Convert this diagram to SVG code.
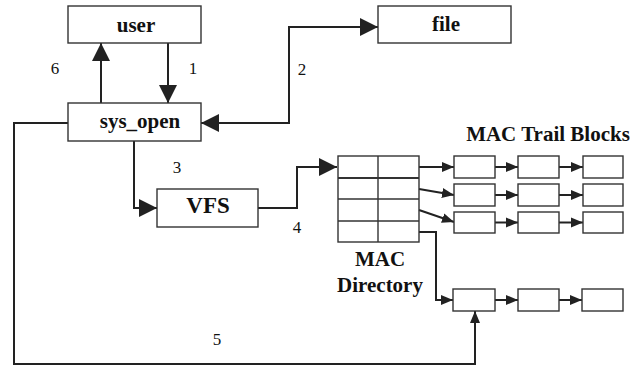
<svg xmlns="http://www.w3.org/2000/svg" width="644" height="369" viewBox="0 0 644 369">
<defs>
<style>
.box{fill:#fff;stroke:#333;stroke-width:1.4}
.lbl{font-family:'Liberation Serif','Tinos','Times New Roman','DejaVu Serif',serif;font-weight:bold;font-size:21px;fill:#111;text-anchor:middle}
.num{font-family:'Liberation Serif','Tinos','Times New Roman','DejaVu Serif',serif;font-size:17px;fill:#111;text-anchor:middle}
.con{fill:none;stroke:#222;stroke-width:2}
.grid{fill:none;stroke:#333;stroke-width:1.4}
</style>
<marker id="big" markerUnits="userSpaceOnUse" markerWidth="18" markerHeight="18" refX="17" refY="8.5" orient="auto-start-reverse" viewBox="0 0 17 17">
<path d="M0,0 L17,8.5 L0,17 Z" fill="#222"/>
</marker>
<marker id="small" markerUnits="userSpaceOnUse" markerWidth="12" markerHeight="11" refX="12" refY="5" orient="auto" viewBox="0 0 12 10">
<path d="M0,0 L12,5 L0,10 Z" fill="#222"/>
</marker>
</defs>
<g id="connectors">
<path class="con" d="M101,103 V43" marker-end="url(#big)"/>
<path class="con" d="M168,43 V103" marker-end="url(#big)"/>
<path class="con" d="M201,123 H289 V27 H378" marker-start="url(#big)" marker-end="url(#big)"/>
<path class="con" d="M134,141 V208 H157" marker-end="url(#big)"/>
<path class="con" d="M258,208 H297 V167 H337" marker-end="url(#big)"/>
<path class="con" d="M68,123 H14 V364 H475 V311" marker-end="url(#small)"/>
<path class="con" d="M419,167 H454" marker-end="url(#small)"/>
<path class="con" d="M419,189 L454,195" marker-end="url(#small)"/>
<path class="con" d="M419,210 L454,222" marker-end="url(#small)"/>
<path class="con" d="M419,232 H436 V300 H453" marker-end="url(#small)"/>
<path class="con" d="M495,167 H518" marker-end="url(#small)"/>
<path class="con" d="M559,167 H583" marker-end="url(#small)"/>
<path class="con" d="M495,195 H518" marker-end="url(#small)"/>
<path class="con" d="M559,195 H583" marker-end="url(#small)"/>
<path class="con" d="M495,222.5 H518" marker-end="url(#small)"/>
<path class="con" d="M559,222.5 H583" marker-end="url(#small)"/>
<path class="con" d="M495,300 H518" marker-end="url(#small)"/>
<path class="con" d="M559,300 H582" marker-end="url(#small)"/>
</g>
<g id="user">
<rect class="box" x="68" y="6" width="133" height="37"/>
<text class="lbl" x="136" y="32">user</text>
</g>
<g id="file">
<rect class="box" x="378" y="6" width="133" height="37"/>
<text class="lbl" x="446" y="31">file</text>
</g>
<g id="sys_open">
<rect class="box" x="68" y="103" width="133" height="38"/>
<text class="lbl" x="140" y="128">sys_open</text>
</g>
<g id="vfs">
<rect class="box" x="157" y="189" width="101" height="38"/>
<text class="lbl" x="208" y="213" style="font-size:23px">VFS</text>
</g>
<g id="mac-directory">
<rect class="grid" x="338" y="156" width="81" height="86"/>
<line class="grid" x1="378" y1="156" x2="378" y2="242"/>
<line class="grid" x1="338" y1="178" x2="419" y2="178" style="stroke-width:2.2"/>
<line class="grid" x1="338" y1="199" x2="419" y2="199"/>
<line class="grid" x1="338" y1="221" x2="419" y2="221"/>
<text class="lbl" x="380" y="266">MAC</text>
<text class="lbl" x="380" y="292">Directory</text>
</g>
<g id="mac-trail-blocks">
<text class="lbl" x="548" y="141">MAC Trail Blocks</text>
<rect class="box" x="454" y="156" width="41" height="22"/>
<rect class="box" x="518" y="156" width="41" height="22"/>
<rect class="box" x="583" y="156" width="40" height="22"/>
<rect class="box" x="454" y="184" width="41" height="22"/>
<rect class="box" x="518" y="184" width="41" height="22"/>
<rect class="box" x="583" y="184" width="40" height="22"/>
<rect class="box" x="454" y="212" width="41" height="21"/>
<rect class="box" x="518" y="212" width="41" height="21"/>
<rect class="box" x="583" y="212" width="40" height="21"/>
<rect class="box" x="453" y="289" width="42" height="22"/>
<rect class="box" x="518" y="289" width="41" height="22"/>
<rect class="box" x="582" y="289" width="41" height="22"/>
</g>
<g id="labels">
<text class="num" x="55" y="74">6</text>
<text class="num" x="193" y="74">1</text>
<text class="num" x="302" y="75">2</text>
<text class="num" x="177" y="173">3</text>
<text class="num" x="297" y="233">4</text>
<text class="num" x="217" y="345">5</text>
</g>
</svg>
